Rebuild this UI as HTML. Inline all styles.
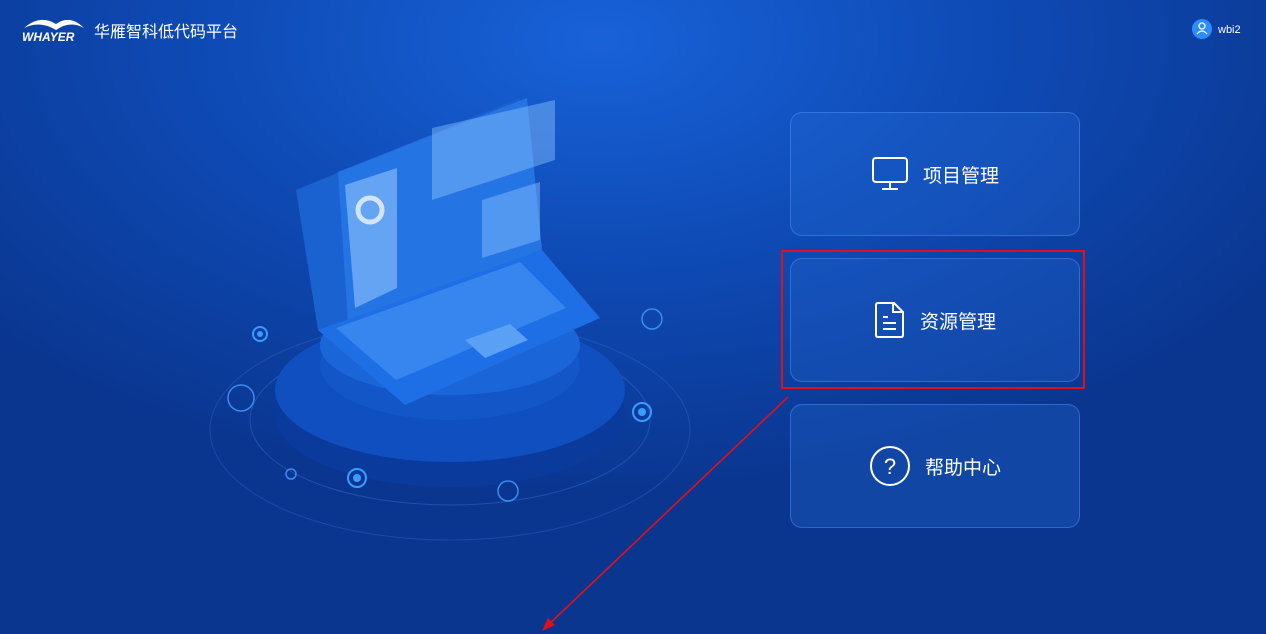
<!DOCTYPE html>
<html><head><meta charset="utf-8"><style>
body{margin:0;width:1266px;height:634px;overflow:hidden;font-family:"Liberation Sans","Noto Sans CJK SC",sans-serif;}
.bg{position:absolute;inset:0;background:radial-gradient(ellipse 800px 450px at 600px 40px,#1862d8 0%,#0f4cb8 45%,#0a3690 100%);}
.card{position:absolute;left:790px;width:290px;height:124px;border-radius:12px;background:rgba(40,110,220,0.28);border:1px solid rgba(90,160,255,0.4);box-sizing:border-box;color:#fff;font-size:19px;display:flex;align-items:center;justify-content:center;gap:14px;}
</style></head><body>
<div class="bg"></div>
<svg style="position:absolute;left:0;top:0" width="1266" height="634">
 <path d="M24 28 Q40 14 56 24 Q70 14 84 28 Q70 20 56 30 Q40 20 24 28Z" fill="#fff"/>
 <text x="22" y="41" font-family="Liberation Sans" font-style="italic" font-weight="bold" font-size="12" fill="#fff">WHAYER</text>
 <text x="94" y="37" font-family="Liberation Sans,Noto Sans CJK SC,sans-serif" font-size="16" fill="#fff">华雁智科低代码平台</text>
 <circle cx="1202" cy="29" r="10" fill="#2f8cff"/>
 <circle cx="1202" cy="26" r="3" fill="none" stroke="#fff" stroke-width="1.3"/>
 <path d="M1197 34 Q1202 28 1207 34" fill="none" stroke="#fff" stroke-width="1.3"/>
 <text x="1218" y="33" font-size="11" fill="#fff" font-family="Liberation Sans">wbi2</text>
 <ellipse cx="450" cy="430" rx="240" ry="110" fill="none" stroke="rgba(90,160,255,0.2)"/>
 <ellipse cx="450" cy="420" rx="200" ry="85" fill="none" stroke="rgba(90,160,255,0.25)"/>
 <ellipse cx="450" cy="415" rx="175" ry="72" fill="#0a3a9c"/>
 <ellipse cx="450" cy="390" rx="175" ry="72" fill="#0f4fbf"/>
 <ellipse cx="450" cy="365" rx="130" ry="55" fill="#1256c8"/>
 <ellipse cx="450" cy="345" rx="130" ry="50" fill="#1a66d8"/>
 <polygon points="296,190 520,98 532,262 318,330" fill="#1a62d0"/>
 <polygon points="338,172 527,98 542,250 348,322" fill="#2474e4"/>
 <polygon points="318,330 542,250 600,318 405,405" fill="#1e6fe6"/>
 <polygon points="336,328 520,262 566,308 396,380" fill="#3d8cf2" opacity="0.8"/>
 <polygon points="465,340 510,324 528,340 485,358" fill="#5aa0f5"/>
 <polygon points="432,128 555,100 555,160 432,200" fill="#8cc4ff" opacity="0.45"/>
 <polygon points="482,200 540,182 540,240 482,258" fill="#8cc4ff" opacity="0.45"/>
 <polygon points="345,185 397,168 397,288 355,308" fill="#9bcbff" opacity="0.55"/>
 <circle cx="370" cy="210" r="12" fill="none" stroke="#fff" stroke-width="5" opacity="0.7"/>
 <circle cx="260" cy="334" r="7" fill="none" stroke="#3b9bff" stroke-width="2"/><circle cx="260" cy="334" r="3" fill="#3b9bff"/>
 <circle cx="241" cy="398" r="13" fill="none" stroke="#3b8cf0" stroke-width="1.5"/>
 <circle cx="652" cy="319" r="10" fill="none" stroke="#3b8cf0" stroke-width="1.5"/>
 <circle cx="642" cy="412" r="9" fill="none" stroke="#3b9bff" stroke-width="2"/><circle cx="642" cy="412" r="4" fill="#3b9bff"/>
 <circle cx="357" cy="478" r="9" fill="none" stroke="#3b9bff" stroke-width="2"/><circle cx="357" cy="478" r="4" fill="#3b9bff"/>
 <circle cx="508" cy="491" r="10" fill="none" stroke="#3b8cf0" stroke-width="1.5"/>
 <circle cx="291" cy="474" r="5" fill="none" stroke="#3b8cf0" stroke-width="1.5"/>
 <rect x="782" y="251" width="302" height="137" fill="none" stroke="#e0101a" stroke-width="2"/>
 <line x1="788" y1="397" x2="546" y2="627" stroke="#e0101a" stroke-width="1.6"/>
 <polygon points="542,631 548,618 555,625" fill="#e0101a"/>
</svg>
<div class="card" style="top:112px">
 <svg width="38" height="36" viewBox="0 0 38 36"><rect x="2" y="2" width="34" height="24" rx="3" fill="none" stroke="#fff" stroke-width="2"/><line x1="19" y1="26" x2="19" y2="32" stroke="#fff" stroke-width="2"/><line x1="11" y1="33" x2="27" y2="33" stroke="#fff" stroke-width="2"/></svg>
 <span>项目管理</span></div>
<div class="card" style="top:258px">
 <svg width="32" height="38" viewBox="0 0 32 38"><path d="M4 2H20L29 11V34Q29 36 27 36H4Q2 36 2 34V4Q2 2 4 2Z" fill="none" stroke="#fff" stroke-width="2"/><path d="M19 2V11H29" fill="none" stroke="#fff" stroke-width="2"/><line x1="9" y1="16" x2="14" y2="16" stroke="#fff" stroke-width="2"/><line x1="9" y1="22" x2="22" y2="22" stroke="#fff" stroke-width="2"/><line x1="9" y1="28" x2="22" y2="28" stroke="#fff" stroke-width="2"/></svg>
 <span>资源管理</span></div>
<div class="card" style="top:404px">
 <svg width="42" height="42" viewBox="0 0 42 42"><circle cx="21" cy="21" r="19" fill="none" stroke="#fff" stroke-width="2"/><text x="21" y="29" text-anchor="middle" font-size="22" fill="#fff" font-family="Liberation Sans">?</text></svg>
 <span>帮助中心</span></div>
</body></html>
